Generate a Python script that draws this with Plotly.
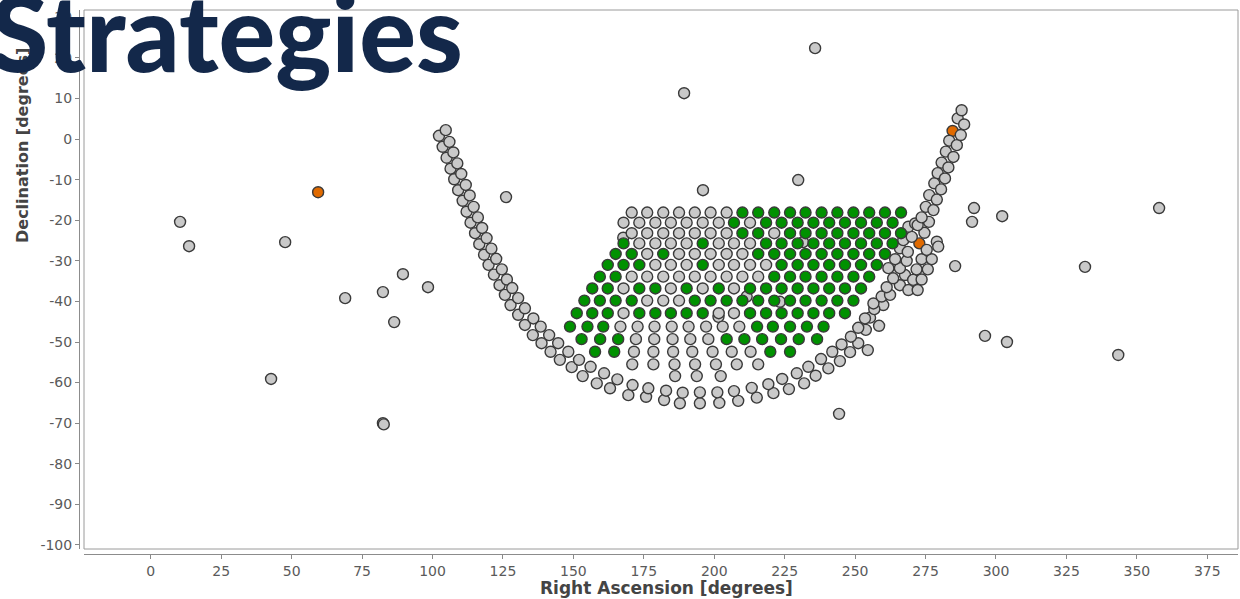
import plotly.graph_objects as go

# ---- survey fields: grid rows (declination of each row, RA of its fields) ----
row_dec = [-18.1, -20.6, -23.2, -25.7, -28.3, -31.0, -33.9, -36.8, -39.8,
           -42.9, -46.2, -49.3, -52.4, -55.5, -58.4]

grid_grey_ra = [
    [170.7, 176.2, 181.9, 187.5, 193.1, 198.7, 204.4],
    [167.8, 173.4, 179.1, 184.6, 190.2, 195.9, 201.6, 212.7],
    [170.7, 176.2, 181.9, 187.5, 193.1, 198.7, 204.4, 221.3],
    [173.4, 179.1, 184.6, 190.2, 201.6, 207.0, 212.7],
    [176.2, 187.5, 193.1, 198.7, 204.4, 210.0],
    [179.1, 184.6, 190.2, 201.6, 207.0, 212.7, 218.4],
    [170.7, 176.2, 181.9, 187.5, 193.1, 198.7, 204.4, 210.0, 215.6],
    [167.8, 184.6, 195.9, 207.0],
    [176.2, 181.9, 187.5],
    [167.8, 201.6, 207.0],
    [166.7, 172.8, 178.8, 184.9, 190.9, 197.1, 203.0, 208.9],
    [172.2, 178.7, 185.2, 191.5, 197.9],
    [171.5, 178.4, 185.4, 192.2, 199.4, 206.2, 212.9],
    [170.9, 178.4, 185.9, 193.2, 200.6, 208.0, 215.6],
    [186.1, 193.8, 202.3],
]

grid_green_ra = [
    [210.0, 215.6, 221.3, 226.9, 232.4, 238.1, 243.7, 249.4, 255.0, 260.6, 266.3],
    [207.0, 218.4, 223.9, 229.6, 235.2, 240.8, 246.4, 252.1, 257.7, 263.3],
    [210.0, 215.6, 226.9, 232.4, 238.1, 243.7, 249.4, 255.0, 260.6, 266.3],
    [167.8, 195.9, 218.4, 223.9, 229.6, 235.2, 240.8, 246.4, 252.1, 257.7, 263.3],
    [165.0, 170.7, 181.9, 215.6, 221.3, 226.9, 232.4, 238.1, 243.7, 249.4, 255.0, 260.6],
    [162.2, 167.8, 173.4, 195.9, 223.9, 229.6, 235.2, 240.8, 246.4, 252.1, 257.7],
    [159.4, 165.0, 221.3, 226.9, 232.4, 238.1, 243.7, 249.4, 255.0],
    [156.7, 162.2, 173.4, 179.1, 190.2, 201.6, 212.7, 218.4, 223.9, 229.6, 235.2,
     240.8, 246.4, 252.1],
    [153.9, 159.4, 165.0, 170.7, 193.1, 198.7, 204.4, 210.0, 215.6, 221.3, 226.9,
     232.4, 238.1, 243.7, 249.4],
    [151.2, 156.7, 162.2, 173.4, 179.1, 184.6, 190.2, 195.9, 212.7, 218.4, 223.9,
     229.6, 235.2, 240.8, 246.4],
    [148.8, 155.0, 160.6, 215.2, 220.8, 226.9, 232.9, 238.8],
    [152.9, 159.5, 165.9, 204.4, 210.7, 217.0, 223.7, 230.0, 236.5],
    [157.7, 164.5, 219.9, 226.9],
    [],
    [],
]

# fields partly hidden under the grid
hidden_ra = [167.7, 231.5, 211.5, 223.3, 201.5]
hidden_dec = [-24.3, -25.4, -38.8, -40.1, -43.8]

# ---- band of fields (two interleaved tracks) ----
band_inner_ra = [104.7, 106.0, 107.4, 108.8, 110.2, 111.8, 113.2, 114.6, 116.1, 117.6,
                 119.2, 120.9, 122.6, 124.6, 126.4, 128.3, 130.4, 132.8, 135.8, 138.4,
                 141.4, 144.6, 148.2, 152.0, 156.1, 160.9, 165.6, 171.0, 176.6, 182.9,
                 188.8, 194.9, 201.1, 207.0, 213.3, 219.2, 224.1, 229.3, 233.4, 237.9,
                 241.9, 245.2, 248.5, 251.1, 253.5, 256.8, 256.5]
band_inner_dec = [2.2, -0.7, -3.3, -6.0, -8.6, -11.3, -13.9, -16.7, -19.3, -21.9,
                  -24.4, -27.0, -29.5, -32.1, -34.6, -36.7, -39.2, -41.7, -44.2, -46.2,
                  -48.3, -50.3, -52.4, -54.4, -56.1, -57.7, -59.2, -60.6, -61.4, -62.0,
                  -62.5, -62.4, -62.4, -62.1, -61.3, -60.4, -59.1, -57.7, -56.1, -54.2,
                  -52.4, -50.6, -48.7, -46.5, -44.2, -41.9, -40.5]

band_outer_ra = [102.3, 103.6, 105.0, 106.4, 107.7, 109.1, 110.7, 112.1, 113.5, 115.1,
                 116.6, 118.3, 119.9, 121.8, 123.8, 125.7, 127.7, 130.4, 132.8, 135.6,
                 138.7, 141.9, 145.2, 149.4, 153.3, 158.3, 163.0, 169.5, 175.8, 182.2,
                 187.8, 194.9, 201.8, 208.5, 215.1, 221.0, 226.5, 231.9, 236.0, 240.5,
                 244.6, 248.2, 251.1, 253.8, 255.3, 258.5, 254.5, 260.0]
band_outer_dec = [0.8, -1.9, -4.6, -7.3, -9.9, -12.6, -15.2, -17.9, -20.6, -23.2,
                  -25.9, -28.5, -31.0, -33.4, -36.0, -38.4, -40.9, -43.3, -45.8, -48.3,
                  -50.3, -52.4, -54.4, -56.2, -58.4, -60.2, -61.4, -63.1, -63.5, -64.3,
                  -65.1, -65.1, -65.0, -64.5, -63.7, -62.6, -61.6, -60.2, -58.3, -56.5,
                  -54.7, -52.5, -50.3, -47.0, -44.0, -46.0, -52.0, -40.9]

# rising branch on the east side
branch_ra = [259.4, 262.4, 261.2, 265.9, 268.9, 272.2, 263.5, 267.7, 270.6, 273.6,
             261.8, 265.9, 271.8, 275.8, 264.2, 268.3, 273.6, 277.2, 265.9, 268.7,
             275.4, 279.0, 279.5, 267.1, 270.1, 274.6, 268.9, 271.3, 276.2, 272.2,
             273.6, 275.1, 277.8, 276.3, 279.0, 278.1, 280.5, 279.3, 281.9, 280.7,
             283.1, 282.2, 284.9, 283.4, 286.1, 287.5, 286.4, 288.7, 287.8]
branch_dec = [-38.8, -38.4, -36.5, -36.0, -37.2, -37.2, -34.3, -33.5, -34.7, -34.6,
              -31.8, -31.8, -32.1, -32.1, -29.6, -30.0, -29.6, -29.6, -26.9, -27.8,
              -27.3, -25.3, -26.5, -24.9, -24.1, -23.1, -21.6, -20.8, -20.4, -21.2,
              -19.3, -16.7, -17.5, -13.8, -14.9, -10.9, -12.4, -8.4, -9.7, -5.8,
              -7.0, -3.1, -4.4, -0.4, -1.5, 1.0, 5.1, 3.6, 7.1]

# ---- scattered single fields ----
single_ra = [10.4, 13.6, 47.7, 42.7, 69.0, 82.4, 89.5, 86.4, 98.4, 82.4, 82.7,
             126.1, 189.3, 196.0, 235.8, 229.8, 244.3, 285.5, 291.5, 292.2, 296.1,
             302.2, 303.9, 331.6, 343.4, 357.9]
single_dec = [-20.4, -26.4, -25.4, -59.1, -39.2, -37.7, -33.3, -45.1, -36.5, -70.0, -70.3,
              -14.3, 11.3, -12.6, 22.4, -10.1, -67.7, -31.3, -20.4, -17.0, -48.5,
              -19.0, -50.0, -31.5, -53.2, -17.0]

# ---- highlighted targets ----
target_ra = [59.4, 284.6, 272.8]
target_dec = [-13.1, 2.0, -25.7]

x_ticks = [0, 25, 50, 75, 100, 125, 150, 175, 200, 225, 250, 275, 300, 325, 350, 375]
y_ticks = [-100, -90, -80, -70, -60, -50, -40, -30, -20, -10, 0, 10, 20, 30]
y_tick_text = ["-100", "-90", "-80", "-70", "-60", "-50", "-40", "-30", "-20", "-10",
               "0", "10", "20", "30"]

# ---- assemble traces ----
grey_ra, grey_dec = [], []
grey_ra += single_ra; grey_dec += single_dec
grey_ra += hidden_ra; grey_dec += hidden_dec
grey_ra += band_outer_ra; grey_dec += band_outer_dec
grey_ra += band_inner_ra; grey_dec += band_inner_dec
grey_ra += branch_ra; grey_dec += branch_dec
for d, ras in zip(row_dec, grid_grey_ra):
    grey_ra += ras
    grey_dec += [d] * len(ras)

green_ra, green_dec = [], []
for d, ras in zip(row_dec, grid_green_ra):
    green_ra += ras
    green_dec += [d] * len(ras)

edge = dict(color="#3a3a3a", width=1.4)
fig = go.Figure()
fig.add_trace(go.Scatter(x=target_ra, y=target_dec, mode="markers",
                         marker=dict(size=11, color="#e06a00", line=edge)))
fig.add_trace(go.Scatter(x=grey_ra, y=grey_dec, mode="markers",
                         marker=dict(size=11, color="#c9c9c9", line=edge)))
fig.add_trace(go.Scatter(x=green_ra, y=green_dec, mode="markers",
                         marker=dict(size=11, color="#009100", line=edge)))

W, H = 1240, 599
ml, mr, mt, mb = 79, 2, 10, 45
pw, ph = W - ml - mr, H - mt - mb
gap = 5

tick_font = dict(family="DejaVu Sans", size=14, color="#5a5a5a")
fig.update_layout(
    width=W, height=H,
    margin=dict(l=ml, r=mr, t=mt, b=mb),
    paper_bgcolor="white", plot_bgcolor="white",
    showlegend=False,
    xaxis=dict(range=[-23.7, 385.9], domain=[gap / pw, 1], anchor="free", position=0,
               tickvals=x_ticks, ticks="outside", ticklen=4, tickcolor="#888888",
               showline=True, linecolor="#8c8c8c", linewidth=1,
               showgrid=False, zeroline=False, tickfont=tick_font),
    yaxis=dict(range=[-101.0, 31.8], domain=[gap / ph, 1], anchor="free", position=0,
               tickvals=y_ticks, ticktext=y_tick_text, ticks="outside", ticklen=4,
               tickcolor="#888888",
               showline=True, linecolor="#8c8c8c", linewidth=1,
               showgrid=False, zeroline=False, tickfont=tick_font),
    shapes=[dict(type="rect", xref="x domain", yref="y domain", x0=0, x1=1, y0=0, y1=1,
                 line=dict(color="#9a9a9a", width=1), layer="below")],
)

def px_to_paper_x(px):
    return (px - ml) / pw

def py_to_paper_y(py):
    return (H - mb - py) / ph

fig.add_annotation(text="<b>Right Ascension [degrees]</b>", xref="paper", yref="paper",
                   x=px_to_paper_x(666), y=py_to_paper_y(588), showarrow=False,
                   xanchor="center", yanchor="middle",
                   font=dict(family="DejaVu Sans", size=17, color="#444444"))
fig.add_annotation(text="<b>Declination [degrees]</b>", xref="paper", yref="paper",
                   x=px_to_paper_x(22), y=py_to_paper_y(146), showarrow=False,
                   textangle=-90, xanchor="center", yanchor="middle",
                   font=dict(family="DejaVu Sans", size=16, color="#444444"))
fig.add_annotation(text="Strategies", xref="paper", yref="paper",
                   x=px_to_paper_x(-12), y=py_to_paper_y(31), showarrow=False,
                   xanchor="left", yanchor="middle",
                   font=dict(family="Lato", size=106, color="#13284a", weight=900))

fig.write_html("out.html")
